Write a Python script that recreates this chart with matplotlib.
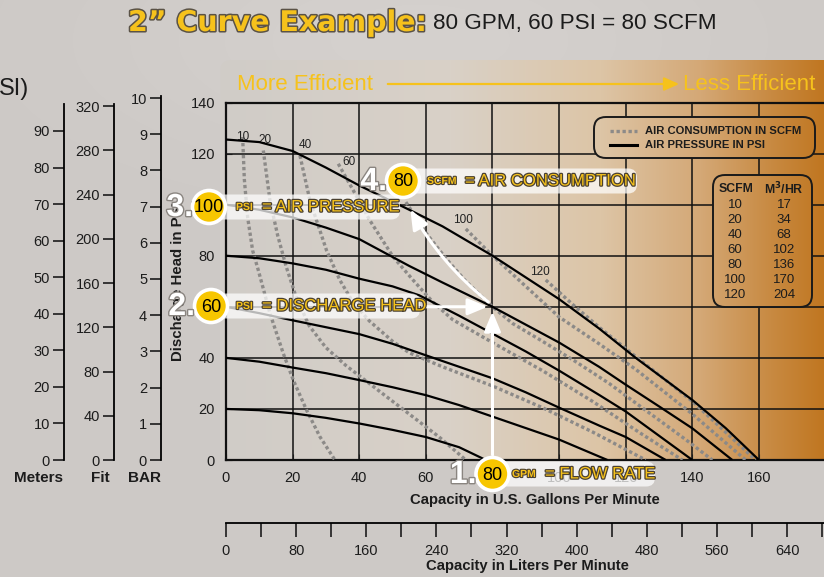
import numpy as np
import matplotlib.pyplot as plt
import matplotlib.patheffects as pe
from matplotlib.patches import FancyBboxPatch, Circle, FancyArrowPatch

plt.rcParams['font.family'] = ['Liberation Sans', 'DejaVu Sans']

W, H = 824, 577

# air pressure curves (solid), head in psi vs flow in gpm
p120_gpm = [0, 10, 20, 30, 40, 55, 65, 80, 90, 100, 112, 123, 140, 150, 160]
p120_psi = [125.5, 124.5, 121, 114.5, 107.5, 98, 91.5, 80, 71.5, 63, 51.5, 40, 23.5, 12.5, 0]
p100_gpm = [0, 10, 20, 30, 40, 55, 65, 80, 90, 100, 112, 120, 130, 140, 152]
p100_psi = [100, 98, 95, 91, 86.5, 76, 69.5, 60, 53, 46, 36.5, 29.5, 21, 12.4, 0]
p80_gpm = [0, 10, 20, 30, 40, 50, 58, 70, 80, 90, 100, 112, 120, 130, 140]
p80_psi = [80, 79, 77, 74.5, 71, 68, 64.5, 56.5, 49.5, 42.5, 35, 25.5, 19, 9.5, 0]
p60_gpm = [0, 10, 20, 30, 40, 50, 60, 70, 80, 90, 100, 112, 120, 132]
p60_psi = [60, 57.5, 54.7, 52, 49.3, 45.5, 41, 36.5, 32, 26.5, 20.5, 13.5, 9, 0]
p40_gpm = [0, 10, 20, 30, 40, 50, 60, 70, 80, 90, 100, 114.5]
p40_psi = [40, 38.5, 36.2, 34, 31.3, 28.5, 25.4, 21.5, 17, 12.5, 8, 0]
p20_gpm = [0, 10, 20, 30, 40, 50, 60, 70, 78]
p20_psi = [20, 19.5, 18.3, 16.5, 14.3, 11.8, 9, 5, 0]

# air consumption curves (dashed), scfm
s10_gpm = [5, 5.5, 6.5, 8, 9.7, 13.2, 17.2, 20.2, 24.2, 28.2, 32.7]
s10_psi = [126.5, 110, 95, 82, 74.3, 57.4, 41.7, 31.3, 19.5, 9.1, 0]
s20_gpm = [11.2, 13.2, 15.5, 18, 21, 25, 30, 36, 42, 50, 57, 64, 72]
s20_psi = [121.2, 101.6, 88, 76, 64, 52.5, 44, 37, 31, 23, 16, 9, 0]
s40_gpm = [22.2, 25.2, 30.2, 34.2, 38, 43, 50, 55, 65, 80, 95, 110, 126]
s40_psi = [119.2, 101.6, 82, 70.4, 62, 54.5, 46.5, 42, 36.5, 29, 20.5, 11, 0]
s60_gpm = [33.7, 38.2, 43.2, 50.2, 56.2, 62, 68, 80, 95, 110, 125, 137]
s60_psi = [116, 105.6, 93.8, 79.5, 70.4, 62, 55, 46, 35, 23, 10, 0]
s80_gpm = [54, 60, 66, 72, 80, 86, 95, 105, 115, 127, 138, 146]
s80_psi = [101, 89, 79, 70, 60, 53.5, 46.5, 38.5, 30, 18.5, 8, 0]
s100_gpm = [72, 80, 88, 100, 112, 123, 140, 156]
s100_psi = [90.5, 80, 70.4, 56, 45.5, 35.5, 18, 0]
s120_gpm = [96, 104, 112, 123, 140, 159]
s120_psi = [70.5, 61, 52, 40.5, 23, 0]

scfm_labels = ['10', '20', '40', '60', '80', '100', '120']
scfm_label_gpm = [5.1, 11.7, 23.7, 36.9, 52, 71.1, 94.2]
scfm_label_psi = [126.3, 125.5, 123.3, 116.7, 106, 94, 73.6]

# conversion table
tab_scfm = [10, 20, 40, 60, 80, 100, 120]
tab_m3hr = [17, 34, 68, 102, 136, 170, 204]

# example reading
ex_gpm, ex_psi, ex_air_psi, ex_scfm = 80, 60, 100, 80

meters_ticks = list(range(0, 91, 10))
feet_ticks = list(range(0, 321, 40))
bar_ticks = list(range(0, 11))
lpm_ticks = list(range(0, 641, 80))

GOLD = '#f6c21c'
DARK = '#1c1c1c'


def fx(px):
    return px / W


def fy(py):
    return 1 - py / H


def gradient(x):
    xs = [220, 450, 600, 700, 770, 824]
    cs = np.array([(208, 204, 200), (217, 209, 199), (221, 197, 166),
                   (212, 168, 118), (200, 138, 66), (192, 118, 32)]) / 255
    return np.stack([np.interp(x, xs, cs[:, i]) for i in range(3)], axis=-1)


fig = plt.figure(figsize=(W / 100, H / 100), dpi=100)

# backdrop
bg = fig.add_axes([0, 0, 1, 1], zorder=0)
yy, xx = np.mgrid[0:H, 0:W]
base = np.ones((H, W, 3)) * np.array([205, 201, 198]) / 255
glow = np.exp(-((xx - 420) ** 2 / 300 ** 2 + (yy - 40) ** 2 / 120 ** 2))
base = base + glow[..., None] * 0.03
bg.imshow(np.clip(base, 0, 1), extent=[0, W, H, 0], aspect='auto')
panel_img = np.tile(gradient(np.arange(W))[None, :, :], (H, 1, 1))
im = bg.imshow(panel_img, extent=[0, W, H, 0], aspect='auto')
panel = FancyBboxPatch((220, 60), 620, 400, boxstyle='round,pad=0,rounding_size=12',
                       transform=bg.transData, fc='none', ec='none')
bg.add_patch(panel)
im.set_clip_path(panel)
bg.set_xlim(0, W)
bg.set_ylim(H, 0)
bg.axis('off')

# main chart
ax = fig.add_axes([fx(226), fy(460), (W - 226) / W, (460 - 102.5) / H], zorder=2)
ax.patch.set_alpha(0)
ax.set_xlim(0, (W - 226) / 3.331)
ax.set_ylim(0, 140)
ax.set_xticks(range(0, 161, 20))
ax.set_yticks(range(0, 141, 20))
ax.grid(True, color='#111111', lw=1.1)
ax.set_axisbelow(True)
for s in ['left', 'bottom', 'top']:
    ax.spines[s].set_linewidth(1.6)
    ax.spines[s].set_color('#111111')
ax.spines['right'].set_visible(False)
ax.tick_params(direction='in', length=4, labelsize=10.5, colors=DARK, pad=8)

for g, p in [(p20_gpm, p20_psi), (p40_gpm, p40_psi), (p60_gpm, p60_psi),
             (p80_gpm, p80_psi), (p100_gpm, p100_psi), (p120_gpm, p120_psi)]:
    ax.plot(g, p, color='black', lw=1.6, zorder=4, solid_capstyle='butt',
            solid_joinstyle='round')

for g, p in [(s10_gpm, s10_psi), (s20_gpm, s20_psi), (s40_gpm, s40_psi),
             (s60_gpm, s60_psi), (s80_gpm, s80_psi), (s100_gpm, s100_psi),
             (s120_gpm, s120_psi)]:
    ax.plot(g, p, color='#8c8a88', lw=2.4, ls=(0, (1.0, 0.8)), zorder=3)

for t, g, p in zip(scfm_labels, scfm_label_gpm, scfm_label_psi):
    ax.text(g, p, t, fontsize=8.5, color='#222222', ha='center', va='center', zorder=3)

ax.set_ylabel('Discharge Head in PSI', fontsize=10.8, fontweight='bold', color=DARK,
              labelpad=4)

# companion head scales on the left
def side_scale(xpx, top_px, top_val, ticks):
    a = fig.add_axes([fx(xpx), fy(460), 0.0005, (460 - top_px) / H], zorder=2)
    a.patch.set_alpha(0)
    a.set_ylim(0, top_val)
    a.set_yticks(ticks)
    a.set_xticks([])
    for s in ['right', 'top', 'bottom']:
        a.spines[s].set_visible(False)
    a.spines['left'].set_linewidth(1.3)
    a.tick_params(axis='y', direction='out', length=8, width=1.2, labelsize=10.5,
                  colors=DARK, pad=2)
    return a


side_scale(64, 104, (460 - 104) / 3.656, meters_ticks)
side_scale(114, 104, (460 - 104) / 1.106, feet_ticks)
side_scale(161, 96, (460 - 96) / 36.2, bar_ticks)

# litres per minute scale
al = fig.add_axes([fx(226), fy(523), (W - 226) / W, 0.0005], zorder=2)
al.patch.set_alpha(0)
al.set_xlim(0, (W - 226) / 0.8766)
al.set_xticks(lpm_ticks)
al.set_xticks(range(40, 681, 80), minor=True)
al.set_yticks([])
for s in ['left', 'right', 'top']:
    al.spines[s].set_visible(False)
al.spines['bottom'].set_linewidth(1.3)
al.tick_params(axis='x', which='both', direction='out', length=10, width=1.2,
               labelsize=10.5, colors=DARK, pad=5)

# overlay in pixel coordinates
ov = fig.add_axes([0, 0, 1, 1], zorder=5)
ov.set_xlim(0, W)
ov.set_ylim(H, 0)
ov.axis('off')

ov.text(535, 500, 'Capacity in U.S. Gallons Per Minute', fontsize=10.7, fontweight='bold',
        color=DARK, ha='center', va='center')
ov.text(527, 566, 'Capacity in Liters Per Minute', fontsize=10.7, fontweight='bold',
        color=DARK, ha='center', va='center')

outline = [pe.withStroke(linewidth=2.2, foreground='#5a5246')]
ov.text(128, 23, '2\u201d Curve Example:', fontsize=20.5, fontweight='heavy',
        family='DejaVu Sans', color=GOLD, va='center', ha='left', path_effects=outline)
ov.text(433, 23, f'{ex_gpm} GPM, {ex_psi} PSI = {ex_scfm} SCFM', fontsize=16.2,
        color=DARK, va='center', ha='left')
ov.text(-1, 89, 'SI)', fontsize=17, color=DARK, va='center', ha='left')

ov.text(237, 84, 'More Efficient', fontsize=16, color=GOLD, va='center', ha='left')
ov.text(815, 84, 'Less Efficient', fontsize=16, color=GOLD, va='center', ha='right')
ov.add_patch(FancyArrowPatch((385, 84), (682, 84), arrowstyle='-|>,head_length=9,head_width=4',
                             color=GOLD, lw=1.6, mutation_scale=1))

for x, t in [(39, 'Meters'), (100, 'Fit'), (145, 'BAR')]:
    ov.text(x, 478, t, fontsize=11, fontweight='bold', color=DARK, ha='center', va='center')


def gradient_box(x0, y0, w, h):
    box = FancyBboxPatch((x0, y0), w, h, boxstyle='round,pad=0,rounding_size=12',
                         fc='none', ec='#1a1a1a', lw=1.4, zorder=3)
    ov.add_patch(box)
    fill = ov.imshow(panel_img, extent=[0, W, H, 0], aspect='auto', zorder=2)
    fill.set_clip_path(box)


# legend
gradient_box(594, 117, 221, 41)
ov.plot([610, 637], [131, 131], color='#8c8a88', lw=2.4, ls=(0, (1.0, 0.8)), zorder=4)
ov.plot([610, 637], [145, 145], color='black', lw=2.2, zorder=4)
ov.text(645, 131, 'AIR CONSUMPTION IN SCFM', fontsize=8.1, fontweight='bold',
        color=DARK, va='center', zorder=4)
ov.text(645, 145, 'AIR PRESSURE IN PSI', fontsize=8.1, fontweight='bold',
        color=DARK, va='center', zorder=4)

# scfm to m3/hr table
gradient_box(713, 175, 99, 132)
ov.text(736, 189, 'SCFM', fontsize=8.8, fontweight='bold', color=DARK, ha='center',
        va='center', zorder=4)
ov.text(784, 189, 'M$^\\mathbf{3}$/HR', fontsize=8.8, fontweight='bold', color=DARK,
        ha='center', va='center', zorder=4)
for i, (a, b) in enumerate(zip(tab_scfm, tab_m3hr)):
    yrow = 204.5 + i * 15.1
    ov.text(735, yrow, str(a), fontsize=9.5, color=DARK, ha='center', va='center', zorder=4)
    ov.text(784, yrow, str(b), fontsize=9.5, color=DARK, ha='center', va='center', zorder=4)

# white guide arrows for the worked example
x_pt = 226 + ex_gpm * 3.331
y_pt = 460 - ex_psi * 2.554
wkw = dict(color='white', lw=2.2, zorder=6, mutation_scale=1,
           arrowstyle='-|>,head_length=12,head_width=5')
ov.add_patch(FancyArrowPatch((420, y_pt), (x_pt - 2, y_pt), **wkw))
ov.add_patch(FancyArrowPatch((x_pt, 458), (x_pt, y_pt + 2), **wkw))
ov.add_patch(FancyArrowPatch((x_pt - 2, y_pt - 3), (409, 207),
                             connectionstyle='arc3,rad=-0.1', **wkw))


def badge(cx, cy, step, num, unit, unit_x, desc, desc_x, box_end):
    box = FancyBboxPatch((cx, cy - 12.5), box_end - cx, 25,
                         boxstyle='round,pad=0,rounding_size=9',
                         fc='white', ec='none', alpha=0.72, zorder=7)
    ov.add_patch(box)
    ov.add_patch(Circle((cx, cy), 16.5, fc='#f7c600', ec='white', lw=2.6, zorder=8))
    ov.text(cx, cy + 1, str(num), fontsize=13, color='black', ha='center', va='center',
            zorder=9)
    ov.text(cx - 16, cy + 1, f'{step}.', fontsize=23, fontweight='bold', color='white',
            ha='right', va='center', zorder=9,
            path_effects=[pe.withStroke(linewidth=2, foreground='#8a8580')])
    ov.text(unit_x, cy, unit, fontsize=7.5, fontweight='bold', color=GOLD,
            ha='left', va='center', zorder=9,
            path_effects=[pe.withStroke(linewidth=1.6, foreground='#4a4030')])
    ov.text(desc_x, cy, desc, fontsize=12, color=GOLD,
            ha='left', va='center', zorder=9,
            path_effects=[pe.withStroke(linewidth=1.8, foreground='#4a4030')])


badge(x_pt, 474, 1, ex_gpm, 'GPM', 512, '= FLOW RATE', 545, 655)
badge(211, 306, 2, ex_psi, 'PSI', 236, '= DISCHARGE HEAD', 262, 420)
badge(209, 207, 3, ex_air_psi, 'PSI', 236, '= AIR PRESSURE', 262, 400)
badge(403, 181, 4, ex_scfm, 'SCFM', 427, '= AIR CONSUMPTION', 465, 637)

fig.savefig('out.png', dpi=100)
